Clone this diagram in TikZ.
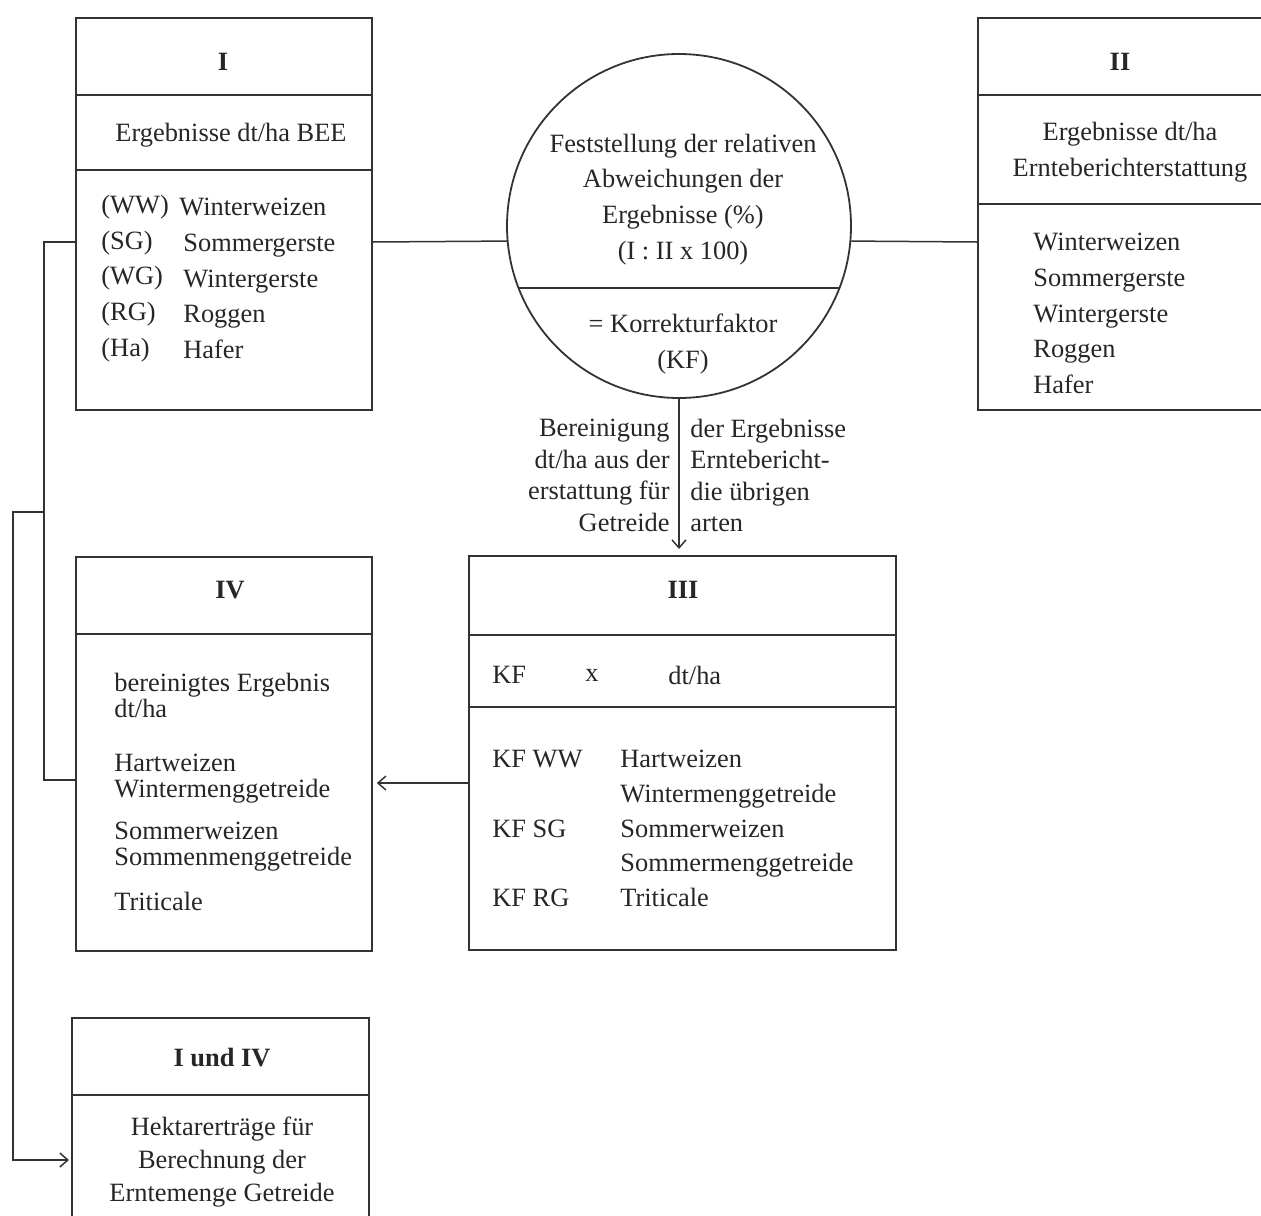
\documentclass[tikz,border=0pt]{standalone}
\usepackage{fontspec}
\setmainfont{Liberation Serif}
\usetikzlibrary{positioning,arrows.meta}

\tikzset{
  feld/.style={draw, line width=0.9pt, inner sep=0pt, anchor=north west},
  trenn/.style={line width=1.3pt},
  txt/.style={inner sep=0pt, font=\fontsize{13.2}{17.9}\selectfont},
  kopf/.style={inner sep=0pt, font=\fontsize{13.2}{17.9}\selectfont\bfseries},
  eng/.style={txt, align=left, anchor=west, font=\fontsize{13.2}{13.4}\selectfont},
  linie/.style={line width=0.75pt},
  pfeil/.style={linie, -{Straight Barb[length=4pt,width=7pt]}},
}

\begin{document}
\begin{tikzpicture}[x=0.5pt,y=-0.5pt,color=black!80,text=black!85]
\useasboundingbox (0,0) rectangle (1261,1215);

% Kaesten
\node[feld, minimum width=148pt, minimum height=196pt] (b1) at (75,17) {};
\node[feld, minimum width=144pt, minimum height=196pt] (b2) at (977,17) {};
\node[feld, minimum width=213.5pt, minimum height=197pt] (b3) at (468,555) {};
\node[feld, minimum width=148pt, minimum height=197pt] (b4) at (75,556) {};
\node[feld, minimum width=148.5pt, minimum height=112pt] (b5) at (71,1017) {};
\node[draw, circle, line width=0.9pt, inner sep=0pt, minimum size=172pt] (kreis) at (679,226) {};

\draw[trenn] (b1.west |- 0,95) -- (b1.east |- 0,95);
\draw[linie] (b1.west |- 0,170) -- (b1.east |- 0,170);
\draw[trenn] (b2.west |- 0,95) -- (b2.east |- 0,95);
\draw[linie] (b2.west |- 0,204) -- (b2.east |- 0,204);
\draw[trenn] (b3.west |- 0,635) -- (b3.east |- 0,635);
\draw[linie] (b3.west |- 0,707) -- (b3.east |- 0,707);
\draw[trenn] (b4.west |- 0,634) -- (b4.east |- 0,634);
\draw[trenn] (b5.west |- 0,1095) -- (b5.east |- 0,1095);
\draw[linie] (kreis.-159) -- (kreis.-21);

% I
\node[kopf] (k1) at (223,62) {I};
\node[txt] (e1) at (231,135) {Ergebnisse dt/ha BEE};
\node[txt, align=left, anchor=west] (ab1) at (101,278.5) {(WW)\\(SG)\\(WG)\\(RG)\\(Ha)};
\node[txt, align=left, anchor=west] (ar1) at (183,278.5) {\hspace*{-2pt}Winterweizen\\Sommergerste\\Wintergerste\\Roggen\\Hafer};

% II
\node[kopf] (k2) at (1120,62) {II};
\node[txt, align=center] (e2) at (1130,152.5) {Ergebnisse dt/ha\\Ernteberichterstattung};
\node[txt, align=left, anchor=west] (ar2) at (1033,313.5) {Winterweizen\\Sommergerste\\Wintergerste\\Roggen\\Hafer};

% Kreis
\node[txt, align=center] (f1) at (683,199.5) {Feststellung der relativen\\Abweichungen der\\Ergebnisse (\%)\\(I : II x 100)};
\node[txt, align=center] (f2) at (683,344) {= Korrekturfaktor\\(KF)};

% Bereinigung
\node[txt, align=right, anchor=east, font=\fontsize{13.2}{15.8}\selectfont] (bl) at (670,475.5) {Bereinigung\\dt/ha aus der\\erstattung für\\Getreide};
\node[txt, align=left, anchor=west, font=\fontsize{13.2}{15.8}\selectfont] (br) at (690,475.5) {der Ergebnisse\\Erntebericht-\\die übrigen\\arten};

% III
\node[kopf] (k3) at (683,590) {III};
\node[txt, anchor=west] (kf) at (492,675) {KF};
\node[txt] (mal) at (592,675) {x};
\node[txt, anchor=west] (dtha) at (668,675) {dt/ha};
\node[txt, anchor=west] (kf1) at (492,759) {KF WW};
\node[txt, anchor=west] (kf2) at (492,829) {KF SG};
\node[txt, anchor=west] (kf3) at (492,898) {KF RG};
\node[txt, align=left, anchor=west, font=\fontsize{13.2}{17.4}\selectfont] (ar3) at (620,828.5) {Hartweizen\\Wintermenggetreide\\Sommerweizen\\Sommermenggetreide\\Triticale};

% IV
\node[kopf] (k4) at (230,590) {IV};
\node[eng] (g1) at (114,695.5) {bereinigtes Ergebnis\\dt/ha};
\node[eng] (g2) at (114,778.5) {Hartweizen\\Wintermenggetreide};
\node[eng] (g3) at (114,846.5) {Sommerweizen\\Sommenmenggetreide};
\node[eng] (g4) at (114,901) {Triticale};

% I und IV
\node[kopf] (k5) at (222,1058) {I und IV};
\node[txt, align=center, font=\fontsize{13.2}{16.5}\selectfont] (h5) at (222,1162) {Hektarerträge für\\Berechnung der\\Erntemenge Getreide};

% Verbindungen
\coordinate (knick) at (44,512);
\draw[linie] (b1.east |- 0,242) -- (kreis.185);
\draw[linie] (kreis.-5) -- (b2.west |- 0,242);
\draw[pfeil, shorten >=3pt] (kreis.south) -- (kreis.south |- b3.north);
\draw[pfeil, shorten >=2pt] (b3.west |- 0,783) -- (b4.east |- 0,783);
\draw[linie] (b1.west |- 0,242) -| (knick) |- (b4.west |- 0,780);
\draw[pfeil, shorten >=1pt] (knick) -- (13,512) |- (b5.west |- 0,1160);
\end{tikzpicture}
\end{document}
